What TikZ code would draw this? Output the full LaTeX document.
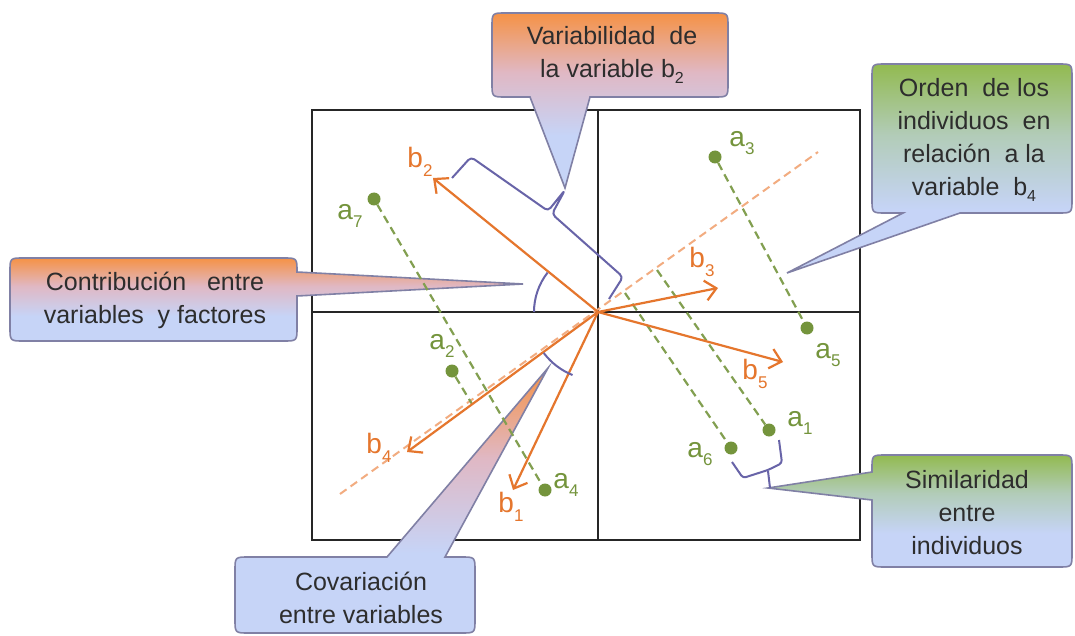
\documentclass[tikz,border=0pt]{standalone}
\usepackage{fontspec}
\setmainfont{Liberation Sans}
\usetikzlibrary{arrows.meta}
\definecolor{orA}{RGB}{229,118,45}
\definecolor{orL}{RGB}{242,172,128}
\definecolor{grA}{RGB}{116,148,60}
\definecolor{pu}{RGB}{104,100,168}
\definecolor{cbord}{RGB}{128,128,165}
\definecolor{ctop}{RGB}{245,146,70}
\definecolor{cmid}{RGB}{224,184,196}
\definecolor{gtop}{RGB}{146,186,80}
\definecolor{gmid}{RGB}{178,204,184}
\definecolor{cbot}{RGB}{198,212,247}
\definecolor{txt}{RGB}{45,45,45}
\pgfdeclareverticalshading{oshade}{100bp}{color(0bp)=(cbot); color(40bp)=(cbot); color(58bp)=(cmid); color(75bp)=(ctop); color(100bp)=(ctop)}
\pgfdeclareverticalshading{gshade}{100bp}{color(0bp)=(cbot); color(40bp)=(cbot); color(58bp)=(gmid); color(75bp)=(gtop); color(100bp)=(gtop)}
\newcommand\lab[2]{#1\raisebox{-0.3em}{\fontsize{17}{17}\selectfont #2}}
\newcommand\sbs[1]{\raisebox{-0.25em}{\fontsize{16}{16}\selectfont #1}}
\begin{document}
\begin{tikzpicture}[x=1pt,y=-1pt,
  frame/.style={draw=black!85, line width=2.2pt},
  vec/.style={draw=orA, line width=2.2pt, -{Straight Barb[length=11pt,width=20pt]}},
  odash/.style={draw=orL, line width=2pt, dash pattern=on 8pt off 5pt},
  gdash/.style={draw=grA!90, line width=2.2pt, dash pattern=on 8pt off 5pt},
  dot/.style={circle, fill=grA, inner sep=0pt, minimum size=13pt},
  puline/.style={draw=pu, line width=2pt, line join=round},
  callout/.style={draw=cbord, line width=1.6pt},
  ocall/.style={callout, shading=oshade},
  gcall/.style={callout, shading=gshade},
  ctext/.style={align=center, text=txt, font=\fontsize{25}{33}\selectfont, inner sep=0pt},
  blab/.style={text=orA, font=\fontsize{28}{28}\selectfont, inner sep=0pt},
  alab/.style={text=grA, font=\fontsize{28}{28}\selectfont, inner sep=0pt}]
\useasboundingbox (0,0) rectangle (1075,636);
\fill[white] (0,0) rectangle (1075,636);

% frame
\coordinate (TL) at (312,110);
\coordinate (BR) at (860,540);
\draw[frame] (TL) rectangle (BR);
\draw[frame] (598,110) -- (598,540);
\draw[frame] (312,312) -- (860,312);

% callouts
\path[ocall]
  (530,97) -- (565,188) -- (590,97) -- (714,97) .. controls (728,97) .. (728,83)
  -- (728,27) .. controls (728,13) .. (714,13) -- (506,13) .. controls (492,13) .. (492,27)
  -- (492,83) .. controls (492,97) .. (506,97) -- cycle;
\path[gcall]
  (903,213) -- (787,273) -- (960,213) -- (1058,213) .. controls (1072,213) .. (1072,199)
  -- (1072,78) .. controls (1072,64) .. (1058,64) -- (886,64) .. controls (872,64) .. (872,78)
  -- (872,199) .. controls (872,213) .. (886,213) -- cycle;
\path[gcall]
  (872,472) -- (768,488) -- (872,500) -- (872,553) .. controls (872,567) .. (886,567)
  -- (1058,567) .. controls (1072,567) .. (1072,553) -- (1072,469) .. controls (1072,455) .. (1058,455)
  -- (886,455) .. controls (872,455) .. (872,469) -- cycle;
\path[ocall]
  (297,272) -- (523,284) -- (297,296) -- (297,327) .. controls (297,341) .. (283,341)
  -- (24,341) .. controls (10,341) .. (10,327) -- (10,272) .. controls (10,258) .. (24,258)
  -- (283,258) .. controls (297,258) .. (297,272) -- cycle;
\path[ocall]
  (387,557) -- (548,368) -- (445,557) -- (461,557) .. controls (475,557) .. (475,571)
  -- (475,619) .. controls (475,633) .. (461,633) -- (249,633) .. controls (235,633) .. (235,619)
  -- (235,571) .. controls (235,557) .. (249,557) -- cycle;

\node[ctext] (tvar) at (612,55) {Variabilidad\ \ de\\la variable b\sbs{2}};
\node[ctext] (tord) at (974,140) {Orden\ \ de los\\individuos\ \ en\\relación\ \ a la\\variable\ \ b\sbs{4}};
\node[ctext] (tsim) at (967,513) {Similaridad\\entre\\individuos};
\node[ctext] (tcon) at (155,300) {Contribución\ \ \ entre\\variables\ \ y factores};
\node[ctext] (tcov) at (361,598) {Covariación\\entre variables};

% named points
\coordinate (O) at (598,312);
\coordinate (d1) at (340,494);
\coordinate (d2) at (818,152);
\coordinate (p2) at (472,404);
\coordinate (p6) at (625,293);
\coordinate (p1) at (657,270);
\node[dot] (a3) at (715,157) {};
\node[dot] (a7) at (374,199) {};
\node[dot] (a5) at (807,328) {};
\node[dot] (a2) at (452,371) {};
\node[dot] (a4) at (545,490) {};
\node[dot] (a1) at (769,430) {};
\node[dot] (a6) at (731,448) {};

% dashed lines
\draw[odash] (d1) -- (d2);
\draw[gdash] (a3) -- (a5);
\draw[gdash] (a7) -- (a4);
\draw[gdash] (a2) -- (p2);
\draw[gdash] (p6) -- (a6);
\draw[gdash] (p1) -- (a1);

% vectors
\coordinate (v2) at (433,178);
\coordinate (v3) at (718,288);
\coordinate (v5) at (783,362);
\coordinate (v4) at (407,452);
\coordinate (v1) at (513,490);
\draw[vec] (O) -- (v2);
\draw[vec] (O) -- (v3);
\draw[vec] (O) -- (v5);
\draw[vec] (O) -- (v4);
\draw[vec] (O) -- (v1);

% purple marks
\draw[puline, rounded corners=4pt] (452,178) -- (471,157) -- (548,211) -- (565,190) -- (552,214) -- (623,277) -- (609,299);
\draw[puline] (O) ++(180:64) arc[start angle=180, end angle=218, radius=64];
\draw[puline] (O) ++(143:68) arc[start angle=143, end angle=112, radius=68];
\draw[puline, rounded corners=3pt] (732,462) -- (743,478) -- (768,470) -- (782,463) -- (779,440);
\draw[puline] (768,471) -- (770,488);

% labels
\node[blab] (lb2) at (420,162) {\lab{b}{2}};
\node[blab] (lb3) at (702,262) {\lab{b}{3}};
\node[blab] (lb5) at (755,374) {\lab{b}{5}};
\node[blab] (lb4) at (379,448) {\lab{b}{4}};
\node[blab] (lb1) at (511,507) {\lab{b}{1}};
\node[alab] (la3) at (742,143) {\lab{a}{3}};
\node[alab] (la5) at (828,355) {\lab{a}{5}};
\node[alab] (la1) at (800,423) {\lab{a}{1}};
\node[alab] (la6) at (700,454) {\lab{a}{6}};
\node[alab] (la7) at (350,216) {\lab{a}{7}};
\node[alab] (la2) at (442,346) {\lab{a}{2}};
\node[alab] (la4) at (566,485) {\lab{a}{4}};
\end{tikzpicture}
\end{document}
